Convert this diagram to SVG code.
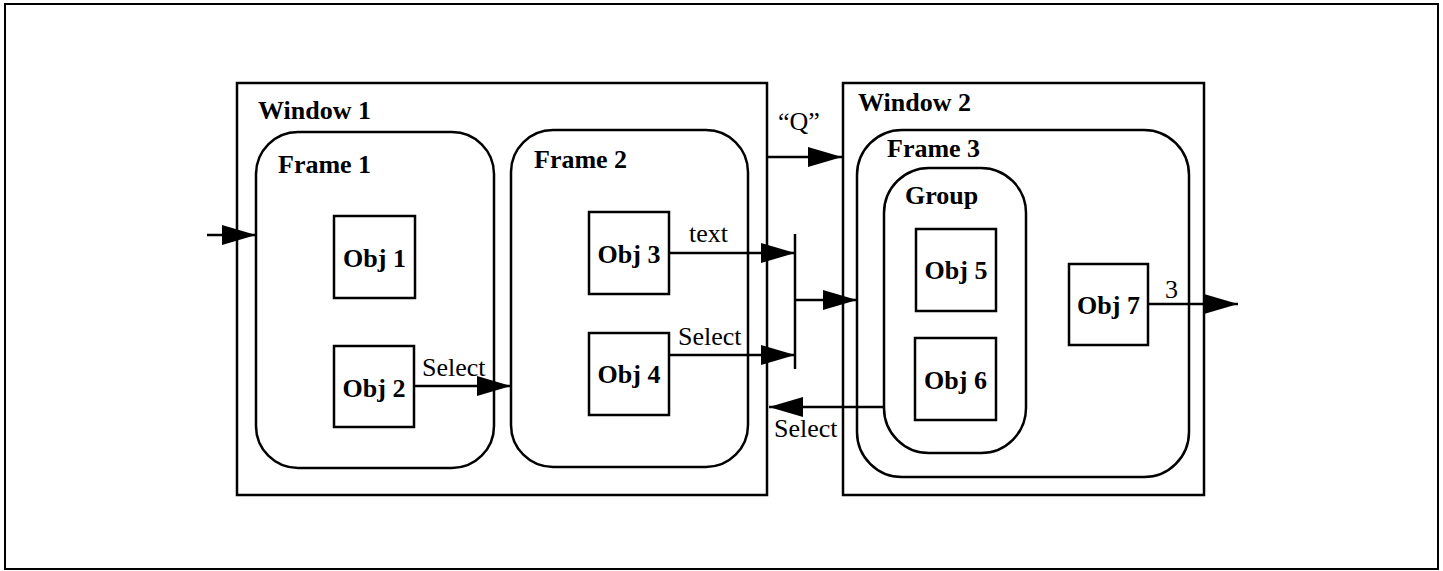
<svg xmlns="http://www.w3.org/2000/svg" width="1443" height="571" viewBox="0 0 1443 571">
<defs>
<style>
.box{fill:none;stroke:#000;stroke-width:2.5}
.obj{fill:#fff;stroke:#000;stroke-width:2.5}
.t{font-family:"Liberation Serif","Times New Roman",serif;font-size:26px;font-weight:bold;fill:#000}
.c{text-anchor:middle}
.lbl{font-family:"Liberation Serif","Times New Roman",serif;font-size:26px;fill:#000}
.ln{fill:none;stroke:#000;stroke-width:2.5}
</style>
<marker id="ah" markerUnits="userSpaceOnUse" markerWidth="34" markerHeight="20" refX="34" refY="10" orient="auto">
<path d="M0,0 L34,10 L0,20 Z" fill="#000"/>
</marker>
</defs>
<rect x="0" y="0" width="1443" height="571" fill="#fff"/>
<rect x="5" y="4" width="1433" height="565" fill="none" stroke="#000" stroke-width="2"/>

<g id="window1">
<rect class="box" x="237" y="83" width="530" height="412"/>
<text class="t" x="258" y="119">Window 1</text>
</g>
<g id="frame1">
<rect class="box" x="256" y="132" width="238" height="336" rx="42" ry="42"/>
<text class="t" x="278" y="173">Frame 1</text>
</g>
<g id="frame2">
<rect class="box" x="511" y="130" width="237" height="337" rx="42" ry="42"/>
<text class="t" x="534" y="168">Frame 2</text>
</g>
<g id="obj1">
<rect class="obj" x="334" y="216" width="81" height="82"/>
<text class="t c" x="374.5" y="267">Obj 1</text>
</g>
<g id="obj2">
<rect class="obj" x="334" y="346" width="80" height="81"/>
<text class="t c" x="374" y="397">Obj 2</text>
</g>
<g id="obj3">
<rect class="obj" x="589" y="212" width="80" height="82"/>
<text class="t c" x="629" y="263">Obj 3</text>
</g>
<g id="obj4">
<rect class="obj" x="589" y="333" width="80" height="82"/>
<text class="t c" x="629" y="383">Obj 4</text>
</g>

<g id="window2">
<rect class="box" x="843" y="83" width="361" height="412"/>
<text class="t" x="858" y="111">Window 2</text>
</g>
<g id="frame3">
<rect class="box" x="857" y="130" width="332" height="347" rx="45" ry="45"/>
<text class="t" x="887" y="157">Frame 3</text>
</g>
<g id="group">
<rect class="box" x="884" y="168" width="142" height="285" rx="45" ry="45"/>
<text class="t" x="905" y="204">Group</text>
</g>
<g id="obj5">
<rect class="obj" x="916" y="229" width="80" height="82"/>
<text class="t c" x="956" y="279">Obj 5</text>
</g>
<g id="obj6">
<rect class="obj" x="915" y="338" width="81" height="82"/>
<text class="t c" x="955.5" y="389">Obj 6</text>
</g>
<g id="obj7">
<rect class="obj" x="1069" y="264" width="79" height="81"/>
<text class="t c" x="1108.5" y="314">Obj 7</text>
</g>

<g id="connectors">
<line class="ln" x1="207" y1="235" x2="256" y2="235" marker-end="url(#ah)"/>
<line class="ln" x1="414" y1="386" x2="511" y2="386" marker-end="url(#ah)"/>
<text class="lbl" x="422" y="376">Select</text>
<line class="ln" x1="669" y1="253" x2="795" y2="253" marker-end="url(#ah)"/>
<text class="lbl" x="689" y="242">text</text>
<line class="ln" x1="669" y1="355" x2="795" y2="355" marker-end="url(#ah)"/>
<text class="lbl" x="678" y="345">Select</text>
<line class="ln" x1="795" y1="234" x2="795" y2="369"/>
<line class="ln" x1="795" y1="300" x2="857" y2="300" marker-end="url(#ah)"/>
<line class="ln" x1="767" y1="157" x2="842" y2="157" marker-end="url(#ah)"/>
<text class="lbl" x="778" y="130">“Q”</text>
<line class="ln" x1="884" y1="407" x2="769" y2="407" marker-end="url(#ah)"/>
<text class="lbl" x="774" y="437">Select</text>
<line class="ln" x1="1148" y1="304" x2="1238" y2="304" marker-end="url(#ah)"/>
<text class="lbl" x="1165" y="298">3</text>
</g>
</svg>
